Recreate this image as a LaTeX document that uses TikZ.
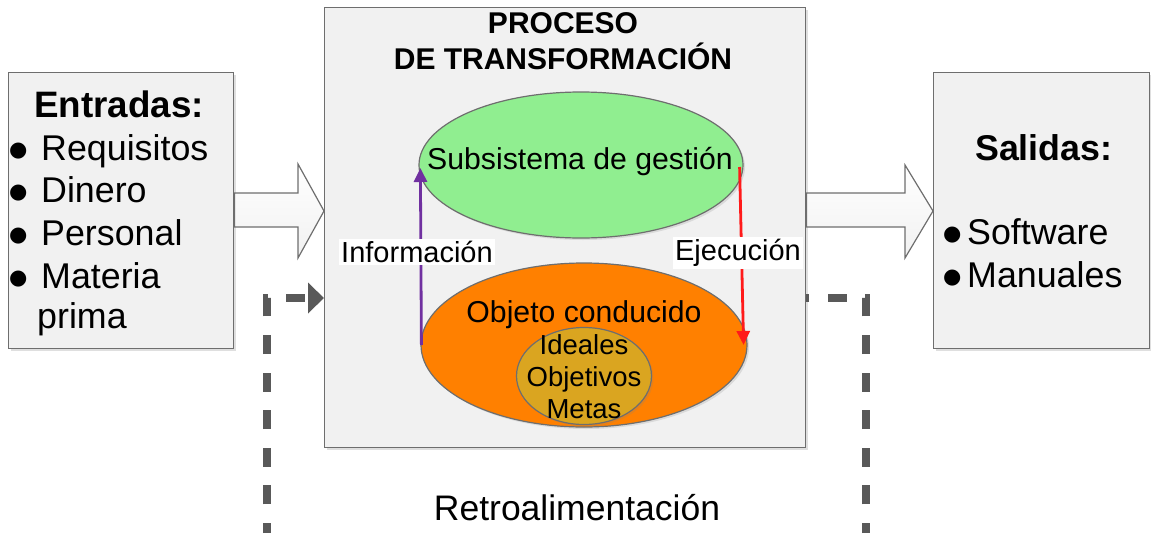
\documentclass[tikz,border=0pt]{standalone}
\usepackage{fontspec}
\setmainfont{Liberation Sans}
\newfontfamily\symfont{DejaVu Sans}
\usetikzlibrary{arrows.meta,shapes.geometric,shadows}
\definecolor{edgegray}{HTML}{6E6E6E}
\definecolor{boxfill}{HTML}{F1F1F1}
\definecolor{gestgreen}{HTML}{90EE90}
\definecolor{objorange}{HTML}{FF8000}
\definecolor{idealgold}{HTML}{DAA520}
\definecolor{infopurple}{HTML}{7030A0}
\definecolor{ejecred}{HTML}{FF1A1A}
\definecolor{fbgray}{HTML}{595959}
\newcommand\bulglyph{\raisebox{3.5pt}{\symfont\fontsize{21}{21}\selectfont ●}}
\newcommand\bul{\makebox[32pt][l]{\bulglyph}}
\tikzset{
  panel/.style={draw=edgegray, line width=1.4pt, fill=boxfill, inner sep=0pt,
    drop shadow={shadow xshift=2pt, shadow yshift=-2pt, opacity=0.25}},
  blockarrow/.style={draw=edgegray, line width=1.2pt, top color=white, bottom color=boxfill},
  ell/.style={ellipse, draw=edgegray, line width=1.2pt, inner sep=0pt,
    drop shadow={shadow xshift=2pt, shadow yshift=-2pt, opacity=0.2}},
  big/.style={font=\fontsize{35.8}{43}\selectfont, inner sep=0pt},
  mid/.style={font=\fontsize{30.2}{34}\selectfont, inner sep=0pt},
  flowlab/.style={font=\fontsize{29}{34}\selectfont, fill=white, inner sep=2pt},
  fb/.style={draw=fbgray, line width=7.5pt, dash pattern=on 19pt off 18.6pt, dash phase=9pt},
}
\begin{document}
\begin{tikzpicture}[x=1pt,y=-1pt]
\useasboundingbox (0,0) rectangle (1151,533);
% boxes
\node[panel, anchor=north west, minimum width=225, minimum height=276] (in) at (8,72) {};
\node[panel, anchor=north west, minimum width=481, minimum height=440] (proc) at (324,7) {};
\node[panel, anchor=north west, minimum width=216, minimum height=276] (out) at (933,72) {};
% block arrows
\path[blockarrow] (in.east |- 0,193) -- (298,193) -- (298,164) -- (proc.west |- 0,211) -- (298,258) -- (298,227) -- (in.east |- 0,227) -- cycle;
\path[blockarrow] (proc.east |- 0,193) -- (905,193) -- (905,165) -- (out.west |- 0,211) -- (905,258) -- (905,227) -- (proc.east |- 0,227) -- cycle;
% input text
\node[big, anchor=base west, font=\fontsize{36.8}{43}\selectfont\bfseries] (inT) at (34,117) {Entradas:};
\node[big, anchor=base west] (in1) at (9,160) {\bul Requisitos};
\node[big, anchor=base west] (in2) at (9,202) {\bul Dinero};
\node[big, anchor=base west] (in3) at (9,245) {\bul Personal};
\node[big, anchor=base west] (in4) at (9,288) {\bul Materia};
\node[big, anchor=base west] (in5) at (37,328) {prima};
% output text
\node[big, anchor=base west, font=\fontsize{35.8}{43}\selectfont\bfseries] (outT) at (975,160) {Salidas:};
\node[big, anchor=base west] (out1) at (943,244) {\makebox[24pt][l]{\bulglyph}Software};
\node[big, anchor=base west] (out2) at (943,287) {\makebox[24pt][l]{\bulglyph}Manuales};
% title
\node[anchor=base, inner sep=0pt, font=\fontsize{30}{36}\selectfont\bfseries] (t1) at (563,33) {PROCESO};
\node[anchor=base, inner sep=0pt, font=\fontsize{30}{36}\selectfont\bfseries] (t2) at (563,69) {DE TRANSFORMACIÓN};
% ellipses
\node[ell, fill=gestgreen, minimum width=324, minimum height=146] (gest) at (581,165) {};
\node[mid] (gestT) at (580,162) {Subsistema de gestión};
\node[ell, fill=objorange, minimum width=326, minimum height=164] (obj) at (584,345) {};
\node[mid, anchor=base] (objT) at (584,322) {Objeto conducido};
\node[ell, fill=idealgold, minimum width=135, minimum height=97] (ideal) at (584,376) {};
\node[inner sep=0pt, align=center, font=\fontsize{27.5}{32}\selectfont] (idealT) at (584,377) {Ideales\\Objetivos\\Metas};
% flows
\draw[infopurple, line width=2.8pt, -{Triangle[length=14pt,width=13pt]}] ([xshift=1pt]obj.west) -- ([xshift=2pt,yshift=-3pt]gest.west);
\draw[ejecred, line width=2.8pt, -{Triangle[length=14pt,width=13pt]}] ([xshift=-4pt,yshift=-2pt]gest.east) -- ([xshift=-4pt]obj.east);
\node[flowlab] (infoL) at (417,252) {Información};
\node[flowlab] (ejecL) at (738,253) {Ejecución};
% feedback
\coordinate (fbY) at (0,298);
\coordinate (fbL) at (267,533);
\coordinate (fbR) at (866,533);
\draw[fb, -{Triangle[length=16pt,width=30pt]}] (fbL) |- (proc.west |- fbY);
\draw[fb] (fbR) |- (proc.east |- fbY);
\node[inner sep=0pt, anchor=base, font=\fontsize{35.5}{40}\selectfont] (fbT) at (577,520) {Retroalimentación};
\end{tikzpicture}
\end{document}
